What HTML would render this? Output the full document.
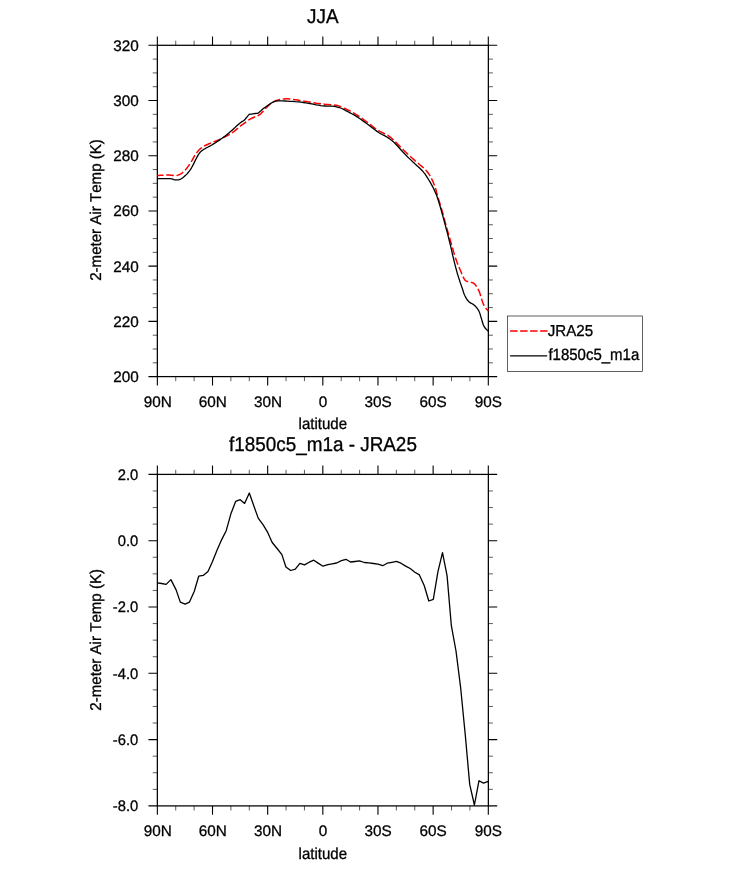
<!DOCTYPE html>
<html><head><meta charset="utf-8"><title>JJA</title>
<style>
html,body{margin:0;padding:0;background:#fff;}
svg{display:block;}
text{text-rendering:geometricPrecision;font-kerning:none;stroke:#000;stroke-width:0.3px;paint-order:stroke;font-family:"Liberation Sans",sans-serif;fill:#000;}
.t{font-size:15.3px;}
.h{font-size:18.9px;}
.x{font-size:15.05px;}
.l{font-size:15.15px;}
.y{font-size:15.1px;}
</style></head><body>
<svg width="733" height="869" viewBox="0 0 733 869">
<rect x="0" y="0" width="733" height="869" fill="#fff"/>
<g stroke="#000" stroke-width="1.25" fill="none" stroke-linecap="butt">
<rect x="157.35" y="45.3" width="331.0" height="331.3"/>
<path stroke-width="1.1" d="M157.35,45.3v-8.9M157.35,376.6v8.9M212.51,45.3v-8.9M212.51,376.6v8.9M267.67,45.3v-8.9M267.67,376.6v8.9M322.83,45.3v-8.9M322.83,376.6v8.9M377.98,45.3v-8.9M377.98,376.6v8.9M433.14,45.3v-8.9M433.14,376.6v8.9M488.30,45.3v-8.9M488.30,376.6v8.9M157.35,45.30h-8.9M488.3,45.30h8.9M157.35,100.52h-8.9M488.3,100.52h8.9M157.35,155.73h-8.9M488.3,155.73h8.9M157.35,210.95h-8.9M488.3,210.95h8.9M157.35,266.17h-8.9M488.3,266.17h8.9M157.35,321.38h-8.9M488.3,321.38h8.9M157.35,376.60h-8.9M488.3,376.60h8.9"/>
<path stroke-width="0.65" d="M175.74,45.3v-4.6M175.74,376.6v4.6M194.12,45.3v-4.6M194.12,376.6v4.6M230.89,45.3v-4.6M230.89,376.6v4.6M249.28,45.3v-4.6M249.28,376.6v4.6M286.05,45.3v-4.6M286.05,376.6v4.6M304.44,45.3v-4.6M304.44,376.6v4.6M341.21,45.3v-4.6M341.21,376.6v4.6M359.60,45.3v-4.6M359.60,376.6v4.6M396.37,45.3v-4.6M396.37,376.6v4.6M414.76,45.3v-4.6M414.76,376.6v4.6M451.53,45.3v-4.6M451.53,376.6v4.6M469.91,45.3v-4.6M469.91,376.6v4.6M157.35,59.10h-4.6M488.3,59.10h4.6M157.35,72.91h-4.6M488.3,72.91h4.6M157.35,86.71h-4.6M488.3,86.71h4.6M157.35,114.32h-4.6M488.3,114.32h4.6M157.35,128.12h-4.6M488.3,128.12h4.6M157.35,141.93h-4.6M488.3,141.93h4.6M157.35,169.54h-4.6M488.3,169.54h4.6M157.35,183.34h-4.6M488.3,183.34h4.6M157.35,197.15h-4.6M488.3,197.15h4.6M157.35,224.75h-4.6M488.3,224.75h4.6M157.35,238.56h-4.6M488.3,238.56h4.6M157.35,252.36h-4.6M488.3,252.36h4.6M157.35,279.97h-4.6M488.3,279.97h4.6M157.35,293.78h-4.6M488.3,293.78h4.6M157.35,307.58h-4.6M488.3,307.58h4.6M157.35,335.19h-4.6M488.3,335.19h4.6M157.35,348.99h-4.6M488.3,348.99h4.6M157.35,362.80h-4.6M488.3,362.80h4.6"/>
</g>
<text class="t" x="138.7" y="50.6" text-anchor="end">320</text>
<text class="t" x="138.7" y="105.8" text-anchor="end">300</text>
<text class="t" x="138.7" y="161.0" text-anchor="end">280</text>
<text class="t" x="138.7" y="216.2" text-anchor="end">260</text>
<text class="t" x="138.7" y="271.5" text-anchor="end">240</text>
<text class="t" x="138.7" y="326.7" text-anchor="end">220</text>
<text class="t" x="138.7" y="381.9" text-anchor="end">200</text>
<text class="t" x="157.7" y="406.7" text-anchor="middle">90N</text>
<text class="t" x="212.8" y="406.7" text-anchor="middle">60N</text>
<text class="t" x="268.0" y="406.7" text-anchor="middle">30N</text>
<text class="t" x="323.1" y="406.7" text-anchor="middle">0</text>
<text class="t" x="378.0" y="406.7" text-anchor="middle">30S</text>
<text class="t" x="433.1" y="406.7" text-anchor="middle">60S</text>
<text class="t" x="488.3" y="406.7" text-anchor="middle">90S</text>
<text class="x" transform="translate(322.8,429.2) scale(1,1.06)" text-anchor="middle">latitude</text>
<text class="h" transform="translate(322.8,22.8) scale(1,1.06)" text-anchor="middle">JJA</text>
<text class="y" transform="translate(101.3,210.0) rotate(-90) scale(1,1.035)" text-anchor="middle">2-meter Air Temp (K)</text>
<g stroke="#000" stroke-width="1.25" fill="none" stroke-linecap="butt">
<rect x="157.35" y="474.4" width="331.0" height="331.5"/>
<path stroke-width="1.1" d="M157.35,474.4v-8.9M157.35,805.9v8.9M212.51,474.4v-8.9M212.51,805.9v8.9M267.67,474.4v-8.9M267.67,805.9v8.9M322.83,474.4v-8.9M322.83,805.9v8.9M377.98,474.4v-8.9M377.98,805.9v8.9M433.14,474.4v-8.9M433.14,805.9v8.9M488.30,474.4v-8.9M488.30,805.9v8.9M157.35,474.40h-8.9M488.3,474.40h8.9M157.35,540.70h-8.9M488.3,540.70h8.9M157.35,607.00h-8.9M488.3,607.00h8.9M157.35,673.30h-8.9M488.3,673.30h8.9M157.35,739.60h-8.9M488.3,739.60h8.9M157.35,805.90h-8.9M488.3,805.90h8.9"/>
<path stroke-width="0.65" d="M175.74,474.4v-4.6M175.74,805.9v4.6M194.12,474.4v-4.6M194.12,805.9v4.6M230.89,474.4v-4.6M230.89,805.9v4.6M249.28,474.4v-4.6M249.28,805.9v4.6M286.05,474.4v-4.6M286.05,805.9v4.6M304.44,474.4v-4.6M304.44,805.9v4.6M341.21,474.4v-4.6M341.21,805.9v4.6M359.60,474.4v-4.6M359.60,805.9v4.6M396.37,474.4v-4.6M396.37,805.9v4.6M414.76,474.4v-4.6M414.76,805.9v4.6M451.53,474.4v-4.6M451.53,805.9v4.6M469.91,474.4v-4.6M469.91,805.9v4.6M157.35,490.97h-4.6M488.3,490.97h4.6M157.35,507.55h-4.6M488.3,507.55h4.6M157.35,524.12h-4.6M488.3,524.12h4.6M157.35,557.27h-4.6M488.3,557.27h4.6M157.35,573.85h-4.6M488.3,573.85h4.6M157.35,590.42h-4.6M488.3,590.42h4.6M157.35,623.58h-4.6M488.3,623.58h4.6M157.35,640.15h-4.6M488.3,640.15h4.6M157.35,656.72h-4.6M488.3,656.72h4.6M157.35,689.88h-4.6M488.3,689.88h4.6M157.35,706.45h-4.6M488.3,706.45h4.6M157.35,723.02h-4.6M488.3,723.02h4.6M157.35,756.17h-4.6M488.3,756.17h4.6M157.35,772.75h-4.6M488.3,772.75h4.6M157.35,789.33h-4.6M488.3,789.33h4.6"/>
</g>
<text class="t" transform="translate(138.2,479.7) scale(0.965,1)" text-anchor="end">2.0</text>
<text class="t" transform="translate(138.2,546.0) scale(0.965,1)" text-anchor="end">0.0</text>
<text class="t" transform="translate(138.2,612.3) scale(0.965,1)" text-anchor="end">-2.0</text>
<text class="t" transform="translate(138.2,678.6) scale(0.965,1)" text-anchor="end">-4.0</text>
<text class="t" transform="translate(138.2,744.9) scale(0.965,1)" text-anchor="end">-6.0</text>
<text class="t" transform="translate(138.2,811.2) scale(0.965,1)" text-anchor="end">-8.0</text>
<text class="t" x="157.7" y="836.0" text-anchor="middle">90N</text>
<text class="t" x="212.8" y="836.0" text-anchor="middle">60N</text>
<text class="t" x="268.0" y="836.0" text-anchor="middle">30N</text>
<text class="t" x="323.1" y="836.0" text-anchor="middle">0</text>
<text class="t" x="378.0" y="836.0" text-anchor="middle">30S</text>
<text class="t" x="433.1" y="836.0" text-anchor="middle">60S</text>
<text class="t" x="488.3" y="836.0" text-anchor="middle">90S</text>
<text class="x" transform="translate(322.8,858.5) scale(1,1.06)" text-anchor="middle">latitude</text>
<text class="h" transform="translate(322.9,450.8) scale(1,1.06)" text-anchor="middle">f1850c5_m1a - JRA25</text>
<text class="y" transform="translate(100.9,639.8) rotate(-90) scale(1,1.035)" text-anchor="middle">2-meter Air Temp (K)</text>
<polyline points="157.3,175.5 158.7,175.4 160.8,175.3 163.2,175.2 165.6,175.0 167.7,175.0 169.5,175.1 171.3,175.2 173.0,175.4 174.5,175.5 175.9,175.5 177.1,175.4 178.1,175.1 178.9,174.8 179.8,174.4 180.7,173.9 181.7,173.3 182.6,172.6 183.5,171.8 184.5,170.9 185.5,169.8 186.6,168.5 187.6,167.1 188.8,165.5 189.8,163.9 190.9,162.3 191.9,160.7 192.9,158.9 193.8,157.2 194.7,155.6 195.7,154.1 196.7,152.8 197.6,151.6 198.5,150.5 199.5,149.5 200.5,148.6 201.5,147.8 202.5,147.1 203.5,146.5 204.6,145.8 205.9,145.2 207.4,144.5 209.0,143.8 210.8,143.1 212.5,142.5 214.1,141.8 215.5,141.2 216.7,140.7 217.9,140.2 219.3,139.6 220.9,138.8 222.9,137.8 225.1,136.8 227.4,135.6 229.8,134.3 231.9,133.0 233.8,131.6 235.6,130.2 237.4,128.7 239.1,127.2 240.9,125.7 242.8,124.3 244.8,122.8 246.7,121.4 248.7,120.0 250.5,118.9 252.3,118.0 254.1,117.2 255.8,116.5 257.3,115.9 258.6,115.3 259.6,114.7 260.3,114.1 260.9,113.6 261.4,113.0 262.0,112.4 262.7,111.7 263.4,110.9 264.1,110.1 264.8,109.3 265.5,108.5 266.2,107.8 266.9,107.1 267.6,106.4 268.3,105.7 269.0,105.1 269.6,104.5 270.2,104.0 270.8,103.5 271.5,103.0 272.3,102.5 273.2,102.0 274.2,101.5 275.2,101.0 276.4,100.5 277.7,100.1 279.1,99.7 280.7,99.4 282.4,99.1 284.1,98.9 285.9,98.8 287.7,98.8 289.6,99.0 291.5,99.2 293.5,99.5 295.5,99.8 297.6,100.1 299.7,100.5 301.9,100.8 304.1,101.2 306.4,101.6 308.8,102.0 311.4,102.4 313.9,102.8 316.4,103.2 318.7,103.5 320.8,103.8 322.7,104.0 324.5,104.2 326.3,104.4 328.2,104.6 330.1,104.8 332.1,104.9 334.0,105.0 335.9,105.3 337.7,105.6 339.4,106.1 341.0,106.7 342.6,107.3 344.2,108.1 345.9,108.9 347.7,109.8 349.6,110.7 351.5,111.8 353.5,112.9 355.5,114.1 357.6,115.4 359.8,116.9 362.0,118.4 364.2,120.0 366.4,121.6 368.6,123.2 370.8,124.9 372.9,126.7 375.1,128.3 377.3,129.8 379.5,131.1 381.9,132.3 384.1,133.5 386.3,134.6 388.2,135.7 389.8,136.8 391.0,137.7 392.2,138.8 393.4,139.9 395.0,141.4 396.9,143.3 399.1,145.5 401.4,147.8 403.7,150.2 405.9,152.3 407.9,154.2 409.8,156.0 411.7,157.7 413.6,159.4 415.5,161.1 417.5,162.8 419.5,164.5 421.5,166.1 423.4,167.7 425.0,169.3 426.4,170.8 427.6,172.3 428.6,173.7 429.6,175.2 430.5,176.8 431.4,178.4 432.3,180.1 433.1,181.9 433.8,183.7 434.6,185.7 435.3,187.8 436.0,190.0 436.6,192.4 437.3,194.8 438.0,197.3 438.8,199.9 439.6,202.5 440.4,205.3 441.3,208.1 442.1,210.9 442.9,213.8 443.7,216.7 444.5,219.7 445.3,222.8 446.2,225.9 447.1,229.2 448.1,232.6 449.1,236.0 450.1,239.4 451.0,242.7 451.9,245.9 452.8,249.0 453.7,252.1 454.5,255.0 455.4,257.8 456.3,260.3 457.2,262.7 458.1,264.9 459.0,267.0 459.9,269.2 460.9,271.5 461.9,274.0 462.9,276.3 463.9,278.4 464.9,280.0 465.9,280.9 467.0,281.4 468.0,281.6 469.0,281.7 470.0,281.9 470.9,282.2 471.8,282.4 472.7,282.7 473.5,283.1 474.4,283.8 475.3,284.8 476.3,286.1 477.2,287.6 478.1,289.2 478.9,290.8 479.6,292.6 480.3,294.6 480.9,296.6 481.4,298.6 482.0,300.3 482.5,301.8 483.0,303.1 483.5,304.4 484.0,305.5 484.6,306.6 485.3,307.7 486.2,308.7 487.1,309.6 487.9,310.4 488.4,311.0" fill="none" stroke="#f00" stroke-width="1.5" stroke-dasharray="7.65,2.68" stroke-dashoffset="1.45" stroke-linejoin="round"/>
<polyline points="157.3,178.7 159.2,178.7 162.1,178.6 165.2,178.6 168.2,178.6 170.5,178.7 171.9,178.9 172.8,179.1 173.4,179.4 173.9,179.6 174.6,179.8 175.5,179.9 176.5,179.9 177.4,179.9 178.4,179.8 179.3,179.6 180.1,179.3 180.9,179.0 181.7,178.5 182.5,178.0 183.4,177.3 184.3,176.5 185.3,175.6 186.3,174.6 187.3,173.6 188.2,172.5 189.1,171.4 189.9,170.3 190.7,169.1 191.5,167.8 192.3,166.4 193.1,164.9 194.0,163.1 194.8,161.4 195.6,159.7 196.4,158.2 197.1,156.9 197.8,155.7 198.4,154.6 199.1,153.6 199.8,152.7 200.5,151.9 201.2,151.2 202.0,150.6 202.9,150.0 203.9,149.3 205.2,148.6 206.6,147.8 208.1,147.0 209.7,146.2 211.4,145.2 213.2,144.1 215.1,143.0 217.0,141.7 219.0,140.4 220.9,139.1 222.8,137.7 224.8,136.2 226.7,134.7 228.6,133.2 230.5,131.6 232.4,129.9 234.4,128.1 236.3,126.3 238.0,124.7 239.5,123.4 240.7,122.5 241.6,121.9 242.3,121.4 242.9,121.1 243.4,120.8 243.8,120.5 244.0,120.4 244.1,120.4 244.2,120.3 244.3,120.2 244.4,120.1 244.5,119.9 244.7,119.8 244.8,119.5 245.2,119.2 245.7,118.5 246.3,117.7 247.1,116.9 247.7,116.1 248.2,115.4 248.5,115.1 248.7,114.8 248.8,114.6 248.9,114.5 249.1,114.4 249.3,114.3 249.5,114.3 249.7,114.3 250.1,114.2 250.7,114.2 251.6,114.1 252.9,113.9 254.2,113.7 255.5,113.5 256.4,113.4 257.0,113.3 257.4,113.3 257.6,113.3 257.8,113.3 258.0,113.2 258.2,113.1 258.3,113.0 258.4,112.9 258.6,112.7 259.1,112.3 259.8,111.6 260.7,110.9 261.7,110.0 262.8,109.0 264.1,108.0 265.6,106.9 267.3,105.7 269.1,104.5 270.8,103.4 272.3,102.5 273.5,101.9 274.5,101.5 275.4,101.2 276.4,101.0 277.7,100.9 279.3,100.8 281.0,100.8 283.0,100.9 285.1,101.0 287.3,101.1 289.8,101.3 292.6,101.4 295.5,101.7 298.3,101.9 300.9,102.2 303.3,102.5 305.5,102.8 307.6,103.2 309.7,103.5 311.9,103.9 314.1,104.3 316.3,104.8 318.5,105.2 320.7,105.6 322.8,105.9 324.8,106.0 326.8,106.1 328.7,106.1 330.5,106.1 332.3,106.2 334.0,106.4 335.7,106.7 337.4,107.1 339.0,107.5 340.5,108.0 341.9,108.5 343.2,109.2 344.5,109.8 345.8,110.6 347.3,111.4 349.0,112.3 350.8,113.2 352.8,114.3 354.8,115.4 356.8,116.6 358.9,118.0 361.1,119.5 363.3,121.1 365.5,122.7 367.7,124.3 369.9,126.0 372.2,127.7 374.5,129.5 376.7,131.1 378.7,132.5 380.5,133.6 382.2,134.5 383.8,135.3 385.3,136.1 386.8,137.0 388.2,137.9 389.5,138.8 390.8,139.7 392.2,140.7 393.7,142.1 395.4,143.8 397.3,145.8 399.3,148.0 401.3,150.2 403.2,152.3 405.1,154.3 407.0,156.2 408.9,158.1 410.8,159.9 412.7,161.8 414.7,163.6 416.7,165.5 418.8,167.3 420.6,169.0 422.3,170.7 423.6,172.3 424.8,173.7 425.7,175.1 426.7,176.6 427.7,178.2 428.8,180.0 430.0,181.9 431.1,183.9 432.2,185.9 433.2,187.8 434.1,189.6 434.9,191.4 435.7,193.2 436.5,195.1 437.3,197.3 438.1,199.7 438.9,202.4 439.8,205.2 440.6,208.0 441.4,210.9 442.2,213.7 443.0,216.6 443.8,219.5 444.6,222.6 445.5,225.9 446.4,229.5 447.5,233.4 448.5,237.5 449.5,241.5 450.4,245.2 451.2,248.7 452.0,252.1 452.7,255.4 453.5,258.5 454.2,261.6 455.0,264.6 455.7,267.5 456.5,270.3 457.2,273.0 458.0,275.6 458.8,278.1 459.6,280.5 460.3,282.8 461.1,284.9 461.8,287.0 462.5,289.0 463.1,290.9 463.6,292.6 464.2,294.3 464.9,295.8 465.6,297.2 466.3,298.4 467.0,299.5 467.8,300.5 468.7,301.5 469.7,302.4 470.9,303.1 472.1,303.7 473.3,304.4 474.4,305.3 475.4,306.3 476.4,307.4 477.3,308.5 478.1,309.7 478.9,311.0 479.5,312.4 480.0,313.9 480.5,315.5 480.9,317.0 481.4,318.6 481.9,320.2 482.3,321.8 482.8,323.3 483.3,324.8 483.9,326.2 484.7,327.5 485.8,328.7 486.8,329.7 487.8,330.6 488.4,331.3" fill="none" stroke="#000" stroke-width="1.3" stroke-linejoin="round"/>
<polyline points="157.3,582.8 161.7,583.5 166.1,584.4 170.9,579.6 176.1,589.9 180.3,602.1 185.1,604.1 189.5,602.1 194.3,591.2 198.7,576.2 203.2,575.4 208.0,571.5 212.5,561.4 216.9,550.6 221.7,539.6 226.2,530.7 230.9,513.8 235.7,501.3 240.2,499.7 244.6,503.4 249.3,493.0 253.8,505.8 258.2,518.1 263.0,524.6 267.7,532.4 272.2,542.5 277.1,548.5 281.9,554.6 285.9,567.0 290.7,570.5 295.3,569.1 299.9,563.3 304.4,564.9 309.3,562.2 313.8,560.2 318.1,563.1 323.0,566.2 327.8,564.6 332.2,563.8 336.6,563.0 341.4,560.6 345.9,559.3 350.5,562.0 355.0,561.5 359.5,560.9 364.3,562.5 368.7,562.8 373.5,563.5 378.0,564.1 382.7,565.7 387.2,563.2 392.0,562.3 396.5,561.4 400.9,563.2 405.7,566.1 410.2,568.5 414.9,572.2 419.4,574.9 424.2,585.5 428.8,601.0 433.3,599.4 437.9,571.9 442.5,552.6 447.1,575.9 451.3,625.3 456.0,651.0 460.7,688.2 465.3,735.3 469.7,784.4 474.4,805.0 479.0,780.7 483.5,783.1 488.3,781.3" fill="none" stroke="#000" stroke-width="1.3" stroke-linejoin="round"/>
<rect x="507.5" y="316.0" width="135" height="55.45" fill="#fff" stroke="#000" stroke-width="0.62"/>
<line x1="510.1" y1="331.0" x2="547.6" y2="331.0" stroke="#f00" stroke-width="1.45" stroke-dasharray="7.5,2.5"/>
<line x1="510.1" y1="355.8" x2="547.2" y2="355.8" stroke="#000" stroke-width="1.3"/>
<text class="l" transform="translate(547.7,336.3) scale(1,1.05)">JRA25</text>
<text class="l" style="font-size:15px" transform="translate(548.4,360.0) scale(1,1.085)">f1850c5_m1a</text>
</svg></body></html>
